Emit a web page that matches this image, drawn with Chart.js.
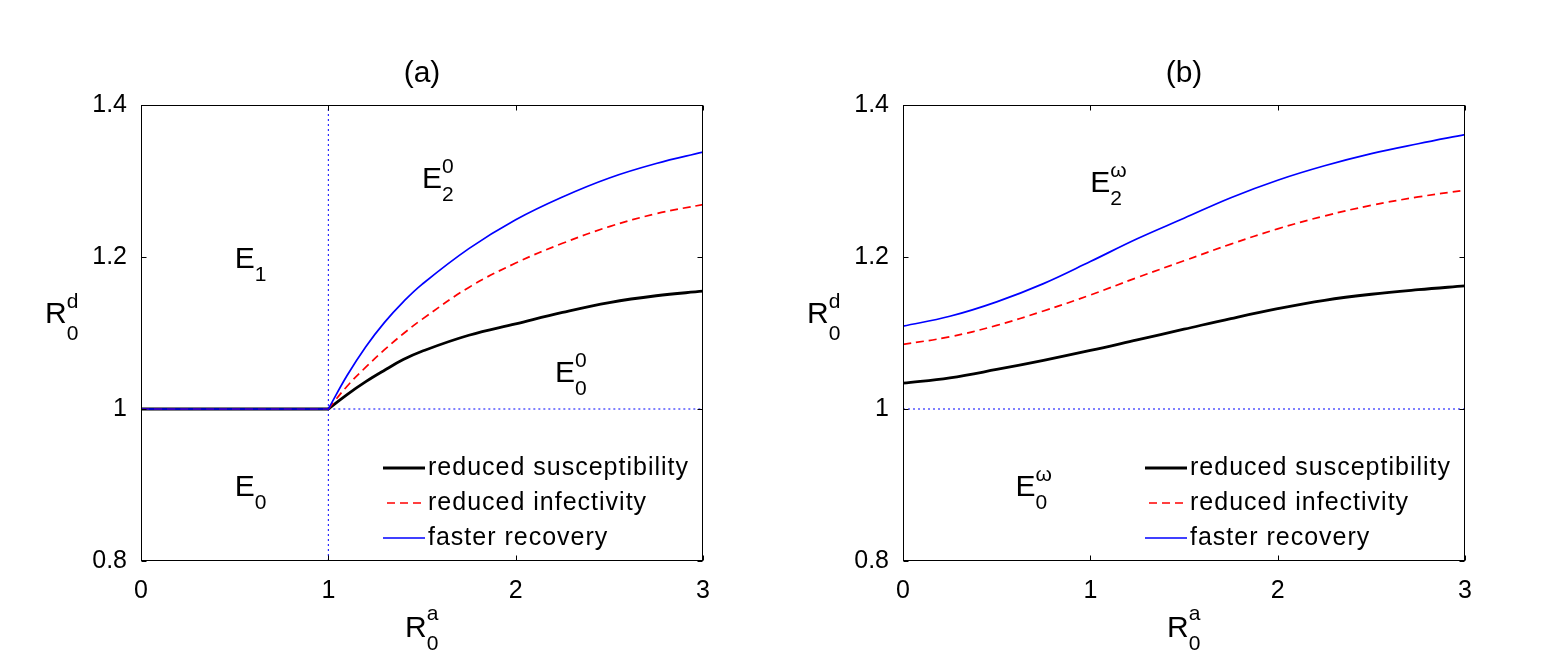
<!DOCTYPE html>
<html>
<head>
<meta charset="utf-8">
<script src="https://cdn.jsdelivr.net/npm/chart.js@4.4.0/dist/chart.umd.min.js"></script>
<style>
  body { margin: 0; background: #fff; }
  canvas { position: absolute; top: 0; }
  #chartA { left: 0; }
  #chartB { left: 776px; }
</style>
</head>
<body>
<canvas id="chartA" width="776" height="668"></canvas>
<canvas id="chartB" width="777" height="668"></canvas>
<script>
// Panel (a): all three curves sit on R0d = 1 up to R0a = 1, then split
const flatX = [0, 1];
const flatY = [1, 1];
const aX = [1, 1.1, 1.2, 1.3, 1.4, 1.5, 1.75, 2, 2.25, 2.5, 2.75, 3];
const aSusceptibility = [1, 1.019, 1.036, 1.051, 1.065, 1.076, 1.097, 1.112, 1.127, 1.140, 1.149, 1.155];
const aInfectivity    = [1, 1.030, 1.055, 1.078, 1.099, 1.118, 1.160, 1.192, 1.218, 1.240, 1.257, 1.269];
const aRecovery       = [1, 1.044, 1.082, 1.114, 1.141, 1.164, 1.211, 1.249, 1.279, 1.304, 1.323, 1.338];

// Panel (b)
const bX = [0, 0.25, 0.5, 0.75, 1, 1.25, 1.5, 1.75, 2, 2.25, 2.5, 2.75, 3];
const bSusceptibility = [1.034, 1.041, 1.052, 1.064, 1.077, 1.091, 1.105, 1.119, 1.132, 1.143, 1.151, 1.157, 1.162];
const bInfectivity    = [1.085, 1.095, 1.110, 1.129, 1.150, 1.173, 1.195, 1.217, 1.237, 1.254, 1.268, 1.279, 1.288];
const bRecovery       = [1.109, 1.122, 1.141, 1.165, 1.194, 1.224, 1.251, 1.278, 1.301, 1.320, 1.336, 1.349, 1.361];

// threshold guides (dotted)
const aVertX = [1, 1];
const aVertY = [0.8, 1.4];
const aHorX = [1, 3];
const aHorY = [1, 1];
const bHorX = [0, 3];
const bHorY = [1, 1];

const xTicks = [0, 1, 2, 3];
const yTicks = [0.8, 1, 1.2, 1.4];
const seriesNames = ['reduced susceptibility', 'reduced infectivity', 'faster recovery'];

const FONT = '"Liberation Sans", Arial, Helvetica, sans-serif';
const BLACK = '#000000', RED = '#ff0000', BLUE = '#0000ff';
const seriesStyle = [
    { color: BLACK, width: 2.8, dash: [] },
    { color: RED, width: 1.7, dash: [8, 5] },
    { color: BLUE, width: 1.7, dash: [] }
];

function pts(xs, ys) {
    return xs.map((x, i) => ({ x: x, y: ys[i] }));
}

function curve(xs, ys, k) {
    const s = seriesStyle[k];
    return {
        data: pts(xs, ys),
        borderColor: s.color,
        borderWidth: s.width,
        borderDash: s.dash,
        pointRadius: 0,
        fill: false,
        tension: 0.4,
        order: 3 - k
    };
}

function dotted(xs, ys) {
    return {
        data: pts(xs, ys),
        borderColor: BLUE,
        borderWidth: 1,
        borderDash: [2, 3],
        pointRadius: 0,
        fill: false,
        order: 5
    };
}

// draws "main" with a subscript and/or superscript
function drawScript(ctx, x, base, t, big, small, supOff, subOff) {
    ctx.textAlign = 'left';
    ctx.textBaseline = 'alphabetic';
    ctx.font = big + 'px ' + FONT;
    ctx.fillText(t.main, x, base);
    const w = ctx.measureText(t.main).width;
    ctx.font = small + 'px ' + FONT;
    if (t.sup) ctx.fillText(t.sup, x + w, base - supOff);
    if (t.sub) ctx.fillText(t.sub, x + w, base + subOff);
}

const decorations = {
    id: 'decorations',
    afterDatasetsDraw(chart, args, opts) {
        const ctx = chart.ctx;
        const a = chart.chartArea;
        const xs = chart.scales.x, ys = chart.scales.y;
        ctx.save();
        ctx.fillStyle = '#000';
        ctx.strokeStyle = '#000';
        ctx.lineWidth = 1;
        ctx.setLineDash([]);

        // axes box
        const L = Math.round(a.left) + 0.5, R = Math.round(a.right) - 0.5;
        const T = Math.round(a.top) + 0.5, B = Math.round(a.bottom) - 0.5;
        ctx.strokeRect(L, T, R - L, B - T);

        // inward ticks on all four sides
        ctx.beginPath();
        xTicks.forEach(v => {
            const p = Math.round(xs.getPixelForValue(v)) + 0.5;
            ctx.moveTo(p, B); ctx.lineTo(p, B - 5);
            ctx.moveTo(p, T); ctx.lineTo(p, T + 5);
        });
        yTicks.forEach(v => {
            const p = Math.round(ys.getPixelForValue(v)) + 0.5;
            ctx.moveTo(L, p); ctx.lineTo(L + 5, p);
            ctx.moveTo(R, p); ctx.lineTo(R - 5, p);
        });
        ctx.stroke();

        // panel title
        ctx.font = '30px ' + FONT;
        ctx.textAlign = 'center';
        ctx.textBaseline = 'alphabetic';
        ctx.fillText(opts.title, (a.left + a.right) / 2, a.top - 23);

        // axis labels
        drawScript(ctx, a.left - 96, 323, { main: 'R', sub: '0', sup: 'd' }, 30, 21, 15, 17);
        drawScript(ctx, (a.left + a.right) / 2 - 17, a.bottom + 76, { main: 'R', sub: '0', sup: 'a' }, 30, 21, 17, 13);

        // region labels (E left edge, cap middle in data units)
        opts.regions.forEach(r => {
            const px = xs.getPixelForValue(r.x);
            const py = ys.getPixelForValue(r.y);
            drawScript(ctx, px, py + 10.7, r, 30, 21, 15, 13);
        });

        // legend, bottom right inside the axes
        const lx = a.right - 320;
        const rows = [a.bottom - 93, a.bottom - 58, a.bottom - 23];
        seriesNames.forEach((name, k) => {
            const s = seriesStyle[k];
            ctx.strokeStyle = s.color;
            ctx.lineWidth = s.width;
            ctx.setLineDash(s.dash);
            ctx.beginPath();
            ctx.moveTo(lx + (k === 1 ? 4 : 0), rows[k]);
            ctx.lineTo(lx + 42, rows[k]);
            ctx.stroke();
            ctx.setLineDash([]);
            ctx.font = '25px ' + FONT;
            ctx.letterSpacing = '1px';
            ctx.textAlign = 'left';
            ctx.textBaseline = 'middle';
            ctx.fillStyle = '#000';
            ctx.fillText(name, lx + 45, rows[k]);
            ctx.letterSpacing = '0px';
        });
        ctx.restore();
    }
};

function makeChart(id, datasets, leftWidth, rightPad, title, regions) {
    return new Chart(document.getElementById(id), {
        type: 'line',
        data: { datasets: datasets },
        options: {
            responsive: false,
            devicePixelRatio: 1,
            animation: false,
            layout: { padding: { top: 105, right: rightPad, left: 0, bottom: 0 } },
            plugins: {
                legend: { display: false },
                title: { display: false },
                tooltip: { enabled: false },
                decorations: { title: title, regions: regions }
            },
            scales: {
                x: {
                    type: 'linear',
                    min: 0, max: 3,
                    grid: { display: false },
                    border: { display: false },
                    ticks: { stepSize: 1, padding: 7, color: '#000', font: { family: FONT, size: 25 } },
                    afterFit: s => { s.height = 107; }
                },
                y: {
                    type: 'linear',
                    min: 0.8, max: 1.4,
                    grid: { display: false },
                    border: { display: false },
                    ticks: {
                        stepSize: 0.2, padding: 6, color: '#000',
                        font: { family: FONT, size: 25 },
                        callback: v => String(parseFloat(v.toFixed(2)))
                    },
                    afterFit: s => { s.width = leftWidth; }
                }
            }
        },
        plugins: [decorations]
    });
}

makeChart('chartA', [
    dotted(aVertX, aVertY),
    dotted(aHorX, aHorY),
    curve(flatX, flatY, 0),
    curve(aX, aSusceptibility, 0),
    curve(flatX, flatY, 1),
    curve(aX, aInfectivity, 1),
    curve(flatX, flatY, 2),
    curve(aX, aRecovery, 2)
], 141, 73, '(a)', [
    { main: 'E', sub: '1', x: 0.5, y: 1.2 },
    { main: 'E', sub: '0', x: 0.5, y: 0.9 },
    { main: 'E', sub: '2', sup: '0', x: 1.5, y: 1.305 },
    { main: 'E', sub: '0', sup: '0', x: 2.21, y: 1.05 }
]);

makeChart('chartB', [
    dotted(bHorX, bHorY),
    curve(bX, bSusceptibility, 0),
    curve(bX, bInfectivity, 1),
    curve(bX, bRecovery, 2)
], 127, 88, '(b)', [
    { main: 'E', sub: '2', sup: 'ω', x: 1.0, y: 1.3 },
    { main: 'E', sub: '0', sup: 'ω', x: 0.6, y: 0.9 }
]);
</script>
</body>
</html>
